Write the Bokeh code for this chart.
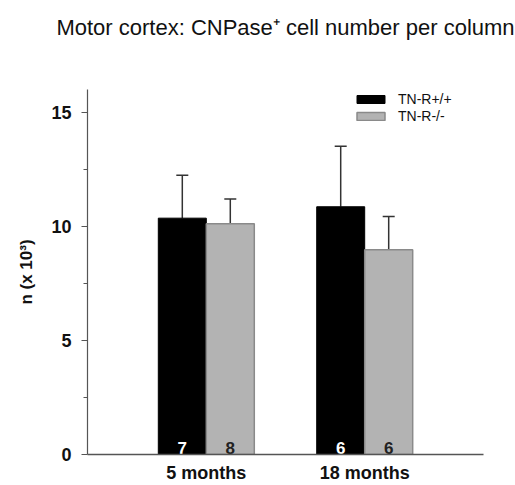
from bokeh.plotting import figure
from bokeh.models import (ColumnDataSource, FactorRange, FixedTicker, Whisker,
                          TeeHead, Legend, LegendItem, Title)
from bokeh.transform import dodge
from bokeh.core.properties import value
from bokeh.embed import file_html
from bokeh.resources import INLINE

# ---- data ----
ages = ["5 months", "18 months"]
groups = ["TN-R+/+", "TN-R-/-"]
wt_mean = [10.36, 10.86]
wt_err = [1.88, 2.65]
ko_mean = [10.11, 8.98]
ko_err = [1.09, 1.45]
wt_n = ["7", "6"]
ko_n = ["8", "6"]
y_ticks = [0, 5, 10, 15]
y_minor_ticks = [2.5, 7.5, 12.5]
title_text = "Motor cortex: CNPase\u207a cell number per column"
y_label = "n (x 10\u00b3)"

FONT = "Liberation Sans"

src_wt = ColumnDataSource(dict(age=ages, mean=wt_mean,
                               upper=[m + e for m, e in zip(wt_mean, wt_err)],
                               n=wt_n))
src_ko = ColumnDataSource(dict(age=ages, mean=ko_mean,
                               upper=[m + e for m, e in zip(ko_mean, ko_err)],
                               n=ko_n))

p = figure(width=515, height=485,
           x_range=FactorRange(*ages, range_padding=0.25, range_padding_units="absolute"),
           y_range=(0, 16),
           output_backend="svg", toolbar_location=None,
           min_border_left=87, min_border_right=32,
           min_border_top=89, min_border_bottom=29)

BW = 0.303
OFF = 0.1515

r_wt = p.vbar(x=dodge("age", -OFF, range=p.x_range), top="mean", width=BW,
              source=src_wt, fill_color="#000000", line_color="#000000", line_width=1)
r_ko = p.vbar(x=dodge("age", OFF, range=p.x_range), top="mean", width=BW,
              source=src_ko, fill_color="#b3b3b3", line_color="#8a8a8a", line_width=1.5)

for src, off in ((src_wt, -OFF), (src_ko, OFF)):
    w = Whisker(source=src, base=dodge("age", off, range=p.x_range),
                lower="mean", upper="upper", dimension="height",
                line_color="#333333", line_width=1.5,
                upper_head=TeeHead(size=12, line_color="#333333", line_width=1.5),
                lower_head=None)
    p.add_layout(w)

p.text(x=dodge("age", -OFF, range=p.x_range), y=0.3, text="n", source=src_wt,
       text_color="white", text_font=value(FONT), text_font_style="bold",
       text_font_size="17px", text_align="center", text_baseline="alphabetic")
p.text(x=dodge("age", OFF, range=p.x_range), y=0.3, text="n", source=src_ko,
       text_color="#222222", text_font=value(FONT), text_font_style="bold",
       text_font_size="17px", text_align="center", text_baseline="alphabetic")

legend = Legend(items=[LegendItem(label=groups[0], renderers=[r_wt]),
                       LegendItem(label=groups[1], renderers=[r_ko])],
                location=(266, 330), padding=0, margin=0, spacing=1,
                glyph_width=35, glyph_height=10, label_height=10,
                label_standoff=10, label_text_font=FONT,
                label_text_font_size="14px", label_text_color="#111111",
                border_line_color=None, background_fill_alpha=0)
p.add_layout(legend)

# main title (outermost) + an empty spacer title between it and the frame
p.title.text = title_text
p.title.align = "center"
p.title.vertical_align = "middle"
p.title.text_font = FONT
p.title.text_font_style = "normal"
p.title.text_font_size = "22px"
p.title.text_color = "#111111"
p.title.standoff = 25
spacer = Title(text="\u00a0", text_font_size="10px", standoff=23)
p.add_layout(spacer, "above")

p.grid.visible = False
p.outline_line_color = None

xa = p.xaxis[0]
xa.major_tick_line_color = None
xa.minor_tick_line_color = None
xa.major_tick_out = 0
xa.major_tick_in = 0
xa.minor_tick_out = 0
xa.axis_line_color = "#555555"
xa.axis_line_width = 1.5
xa.major_label_text_font = FONT
xa.major_label_text_font_style = "bold"
xa.major_label_text_font_size = "18px"
xa.major_label_text_color = "#111111"
xa.major_label_standoff = 8

ya = p.yaxis[0]
ya.ticker = FixedTicker(ticks=y_ticks, minor_ticks=y_minor_ticks)
ya.axis_line_color = "#555555"
ya.axis_line_width = 1.2
ya.major_tick_line_color = "#555555"
ya.minor_tick_line_color = "#555555"
ya.major_tick_out = 6
ya.major_tick_in = 0
ya.minor_tick_out = 4
ya.minor_tick_in = 0
ya.major_label_text_font = FONT
ya.major_label_text_font_style = "bold"
ya.major_label_text_font_size = "18px"
ya.major_label_text_color = "#111111"
ya.major_label_standoff = 10
ya.axis_label = y_label
ya.axis_label_text_font = FONT
ya.axis_label_text_font_style = "bold"
ya.axis_label_text_font_size = "17px"
ya.axis_label_text_color = "#111111"
ya.axis_label_standoff = 12

open("out.html", "w").write(file_html(p, INLINE))
